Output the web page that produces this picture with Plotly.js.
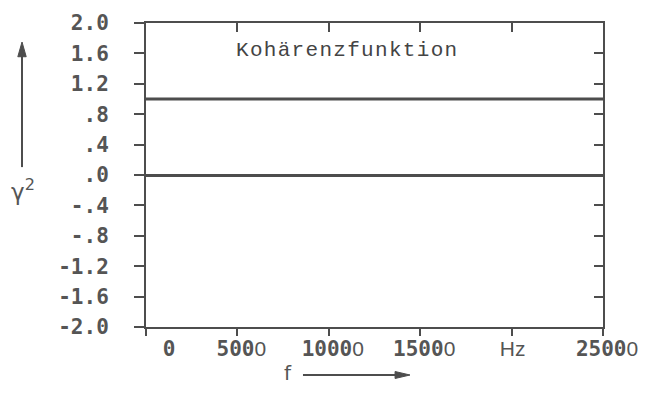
<!DOCTYPE html>
<html>
<head>
<meta charset="utf-8">
<script src="https://cdn.plot.ly/plotly-3.0.1.min.js"></script>
<style>
html,body{margin:0;padding:0;background:#fff;}
#chart{width:652px;height:394px;}
</style>
</head>
<body>
<div id="chart"></div>
<script>
// ---- data ----
const freqHz = [0, 25000];
const coherence = [1.0, 1.0];
const yTickVals = [-2.0, -1.6, -1.2, -0.8, -0.4, 0.0, 0.4, 0.8, 1.2, 1.6, 2.0];
const yTickText = ["-2.0", "-1.6", "-1.2", "-.8", "-.4", ".0", ".4", ".8", "1.2", "1.6", "2.0"];
const xTickVals = [0, 5000, 10000, 15000, 20000, 25000];
const thin0 = '<span style="font-family:Liberation Sans;font-weight:normal">0</span>';
const xTickText = ["\u00a0\u00a0\u00a00", "500" + thin0, "1000" + thin0, "1500" + thin0,
  '<span style="font-family:Liberation Sans;font-weight:normal">Hz\u00a0</span>', "2500" + thin0];
const titleText = "Kohärenzfunktion";

const ink = '#4d4d4d';
const tickFont = {family: 'DejaVu Sans Mono', size: 21, color: '#555', weight: 'bold'};

const traces = [
  {x: freqHz, y: coherence, type: 'scatter', mode: 'lines',
   line: {color: ink, width: 3}, hoverinfo: 'skip', showlegend: false}
];

const layout = {
  width: 652, height: 394,
  margin: {l: 146, r: 49, t: 23, b: 67},
  paper_bgcolor: '#fff', plot_bgcolor: '#fff',
  showlegend: false,
  xaxis: {
    range: [0, 25000], tickvals: xTickVals, ticktext: xTickText,
    ticks: 'outside', ticklen: 7, tickwidth: 2, tickcolor: ink,
    showline: true, linecolor: ink, linewidth: 2,
    showgrid: false, zeroline: false, tickfont: tickFont,
    ticklabelshift: 4, ticklabelstandoff: -5
  },
  xaxis2: {
    range: [0, 25000], overlaying: 'x', side: 'top',
    tickvals: [5000, 10000, 15000, 20000], showticklabels: false,
    ticks: 'inside', ticklen: 9, tickwidth: 2, tickcolor: ink,
    showline: true, linecolor: ink, linewidth: 2, showgrid: false, zeroline: false
  },
  yaxis: {
    range: [-2.0, 2.0], tickvals: yTickVals, ticktext: yTickText,
    ticks: 'outside', ticklen: 10, tickwidth: 2, tickcolor: ink,
    showline: true, linecolor: ink, linewidth: 2,
    showgrid: false, zeroline: true, zerolinecolor: ink, zerolinewidth: 3,
    tickfont: tickFont, ticklabelstandoff: 21
  },
  yaxis2: {
    range: [-2.0, 2.0], overlaying: 'y', side: 'right',
    tickvals: [-1.6, -1.2, -0.8, -0.4, 0.4, 0.8, 1.2, 1.6], showticklabels: false,
    ticks: 'inside', ticklen: 9, tickwidth: 2, tickcolor: ink,
    showline: true, linecolor: ink, linewidth: 2, showgrid: false, zeroline: false
  },
  shapes: [
    // vertical arrow beside the y axis
    {type: 'line', xref: 'paper', yref: 'paper', x0: -0.2713, x1: -0.2713, y0: 0.526, y1: 0.895,
     line: {color: ink, width: 2}},
    {type: 'path', xref: 'paper', yref: 'paper',
     path: 'M -0.2805 0.889 L -0.2713 0.9375 L -0.2621 0.889 Z',
     fillcolor: ink, line: {color: ink, width: 1}},
    // horizontal arrow beside the x label
    {type: 'line', xref: 'paper', yref: 'paper', x0: 0.3435, x1: 0.55, y0: -0.1579, y1: -0.1579,
     line: {color: ink, width: 2}},
    {type: 'path', xref: 'paper', yref: 'paper',
     path: 'M 0.545 -0.1464 L 0.5777 -0.1579 L 0.545 -0.1694 Z',
     fillcolor: ink, line: {color: ink, width: 1}}
  ],
  annotations: [
    {xref: 'paper', yref: 'paper', x: 0.193, y: 0.911, xanchor: 'left', yanchor: 'middle',
     text: '<span style="letter-spacing:1.3px">' + titleText + '</span>', showarrow: false,
     font: {family: 'Liberation Mono', size: 21, color: '#444'}},
    {xref: 'paper', yref: 'paper', x: -0.27, y: 0.45, xanchor: 'center', yanchor: 'middle',
     text: 'γ<sup>2</sup>', showarrow: false,
     font: {family: 'DejaVu Sans', size: 23, color: '#555'}},
    {xref: 'paper', yref: 'paper', x: 0.31, y: -0.15, xanchor: 'center', yanchor: 'middle',
     text: 'f', showarrow: false,
     font: {family: 'DejaVu Sans', size: 20, color: '#555'}}
  ]
};

traces.push({x: freqHz, y: coherence, xaxis: 'x2', yaxis: 'y2', type: 'scatter', mode: 'lines',
  line: {color: 'rgba(0,0,0,0)', width: 0}, hoverinfo: 'skip', showlegend: false});

Plotly.newPlot('chart', traces, layout, {staticPlot: true, displayModeBar: false});
</script>
</body>
</html>
